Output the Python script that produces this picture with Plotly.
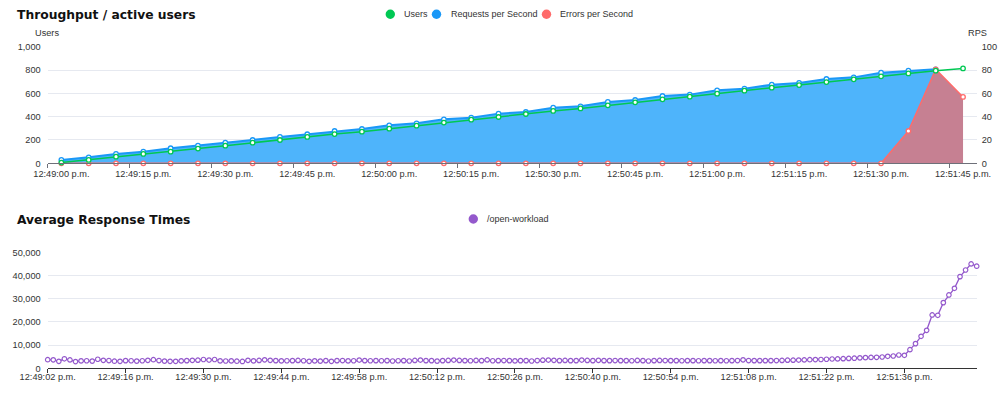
import plotly.graph_objects as go

# ---------------- data: Throughput / active users ----------------
top_times = ["12:49:00", "12:49:05", "12:49:10", "12:49:15", "12:49:20", "12:49:25",
             "12:49:30", "12:49:35", "12:49:40", "12:49:45", "12:49:50", "12:49:55",
             "12:50:00", "12:50:05", "12:50:10", "12:50:15", "12:50:20", "12:50:25",
             "12:50:30", "12:50:35", "12:50:40", "12:50:45", "12:50:50", "12:50:55",
             "12:51:00", "12:51:05", "12:51:10", "12:51:15", "12:51:20", "12:51:25",
             "12:51:30", "12:51:35", "12:51:40", "12:51:45"]
users = [6, 29, 57, 80, 100, 126, 151, 177, 200, 226, 251, 271, 297, 323, 349, 374, 397,
         423, 449, 471, 497, 523, 549, 571, 597, 623, 649, 671, 697, 720, 746, 771, 794, 814]
rps = [2.9, 5.1, 8.0, 10.0, 12.9, 15.1, 17.7, 20.0, 22.6, 24.9, 27.7, 29.4, 32.6, 34.3,
       37.7, 39.1, 42.6, 44.0, 47.7, 48.9, 52.6, 54.3, 57.7, 58.9, 62.6, 64.0, 67.4, 68.9,
       72.3, 73.7, 77.7, 79.4, 80.6, None]
errors = [0] * 31 + [27.7, 80.6, 56.9]

# ---------------- data: Average Response Times ----------------
resp_times = []
for k in range(168):
    s = 49 * 60 + 2 + k
    resp_times.append("12:%02d:%02d" % (s // 60, s % 60))
open_workload = [
    3700, 3650, 3000, 4100, 3600, 2900, 3200, 3250, 3100, 3900,
    3450, 3350, 3050, 3000, 3300, 3250, 3100, 3250, 3450, 3700,
    3350, 3100, 3000, 3000, 3200, 3300, 3450, 3500, 3800, 3550,
    3800, 3200, 3150, 3200, 3050, 2950, 3450, 3200, 3400, 3650,
    3450, 3300, 3200, 3250, 3300, 3400, 3250, 3000, 3200, 3100,
    3300, 3000, 3300, 3350, 3200, 3250, 3550, 3300, 3250, 3300,
    3250, 3300, 3150, 3250, 3300, 3150, 3400, 3550, 3300, 3300,
    3100, 3300, 3400, 3550, 3400, 3300, 3250, 3400, 3300, 3600,
    3250, 3300, 3350, 3300, 3200, 3300, 3300, 3150, 3350, 3500,
    3550, 3450, 3300, 3400, 3300, 3300, 3550, 3400, 3300, 3450,
    3300, 3300, 3350, 3300, 3300, 3250, 3400, 3300, 3150, 3300,
    3400, 3350, 3300, 3300, 3250, 3300, 3300, 3250, 3300, 3300,
    3250, 3300, 3250, 3300, 3350, 3650, 3350, 3300, 3300, 3300,
    3300, 3350, 3400, 3500, 3500, 3550, 3600, 3700, 3750, 3800,
    3900, 4000, 4050, 4150, 4250, 4350, 4500, 4600, 4700, 4750,
    4880, 5170, 5310, 5740, 5600, 8040, 10630, 13790, 16380, 22990,
    22850, 28300, 31610, 34480, 39510, 42380, 45000, 44000,
]

top_legend = ["Users", "Requests per Second", "Errors per Second"]
bottom_legend = ["/open-workload"]

GREEN = "#00c853"
BLUE = "#1a98f7"
BLUE_FILL = "rgb(78,180,251)"
RED = "#ff6b6b"
RED_FILL = "rgb(198,128,146)"
PURPLE = "#9459cc"
GRID = "#e6e9f0"
TICKFONT = dict(family="Liberation Sans", size=9.2, color="#333")
LEGFONT = dict(family="Liberation Sans", size=9.0, color="#333")

W, H = 1000, 397
X0, X1 = 47.7 / W, 976.7 / W
def py(p):
    return 1 - p / H

top_x = list(range(len(top_times)))
resp_x = list(range(len(resp_times)))

fig = go.Figure()

# Requests per second (area) - right axis (y)
fig.add_trace(go.Scatter(
    x=top_x, y=rps, xaxis="x", yaxis="y", mode="lines+markers", name="Requests per Second",
    line=dict(color=BLUE, width=2), fill="tozeroy", fillcolor=BLUE_FILL,
    marker=dict(symbol="circle", size=4.5, color="white", line=dict(color=BLUE, width=1.3)),
    showlegend=False, cliponaxis=False))
# Errors per second (area) - right axis (y)
fig.add_trace(go.Scatter(
    x=top_x, y=errors, xaxis="x", yaxis="y", mode="lines+markers", name="Errors per Second",
    line=dict(color=RED, width=1.5), fill="tozeroy", fillcolor=RED_FILL,
    marker=dict(symbol="circle", size=4.5, color="white", line=dict(color=RED, width=1.3)),
    showlegend=False, cliponaxis=False))
# Users - left axis (y2, overlaying, drawn on top)
fig.add_trace(go.Scatter(
    x=top_x, y=users, xaxis="x", yaxis="y2", mode="lines+markers", name="Users",
    line=dict(color=GREEN, width=1.5),
    marker=dict(symbol="circle", size=4.5, color="white", line=dict(color=GREEN, width=1.3)),
    showlegend=False, cliponaxis=False))

# Response times
fig.add_trace(go.Scatter(
    x=resp_x, y=open_workload, xaxis="x2", yaxis="y3", mode="lines+markers", name="/open-workload",
    line=dict(color=PURPLE, width=1.3),
    marker=dict(symbol="circle", size=4.5, color="white", line=dict(color=PURPLE, width=1.2)),
    showlegend=False, cliponaxis=False))

top_tickvals = list(range(0, len(top_times), 3))
resp_tickvals = list(range(0, len(resp_times) - 1, 14))

# legend (dots + real text)
shapes, annotations = [], []
def legend_item(cx, cy, color, label, text_x):
    shapes.append(dict(type="circle", xref="paper", yref="paper", xsizemode="pixel",
                       ysizemode="pixel", xanchor=cx / W, yanchor=py(cy),
                       x0=-4.7, x1=4.7, y0=-4.7, y1=4.7, fillcolor=color, line=dict(width=0)))
    annotations.append(dict(text=label, xref="paper", yref="paper", x=text_x / W, y=py(cy),
                            xanchor="left", yanchor="middle", showarrow=False, font=LEGFONT))

legend_item(390.3, 14.3, GREEN, top_legend[0], 401.5)
legend_item(436.5, 14.3, BLUE, top_legend[1], 448.5)
legend_item(546.5, 14.3, RED, top_legend[2], 558.3)
legend_item(473.3, 219, PURPLE, bottom_legend[0], 484.5)

annotations += [
    dict(text="Throughput / active users", xref="paper", yref="paper", x=15 / W, y=py(15),
         xanchor="left", yanchor="middle", showarrow=False,
         font=dict(family="DejaVu Sans", size=12.3, weight="bold", color="#111")),
    dict(text="Average Response Times", xref="paper", yref="paper", x=15 / W, y=py(220),
         xanchor="left", yanchor="middle", showarrow=False,
         font=dict(family="DejaVu Sans", size=12.3, weight="bold", color="#111")),
    dict(text="Users", xref="paper", yref="paper", x=47 / W, y=py(32.5),
         xanchor="center", yanchor="middle", showarrow=False, font=TICKFONT),
    dict(text="RPS", xref="paper", yref="paper", x=977 / W, y=py(32.5),
         xanchor="center", yanchor="middle", showarrow=False, font=TICKFONT),
]

fig.update_layout(
    width=W, height=H, autosize=False, showlegend=False,
    margin=dict(l=0, r=0, t=0, b=0, pad=0),
    paper_bgcolor="white", plot_bgcolor="white",
    xaxis=dict(domain=[X0, X1], anchor="y", range=[-0.5, len(top_times) - 0.5], automargin=False,
               tickvals=top_tickvals, ticktext=[top_times[i] + " p.m." for i in top_tickvals],
               ticks="", ticklabelstandoff=2, showgrid=False, zeroline=False,
               showline=True, linecolor="#6e7079", linewidth=1.2, tickfont=TICKFONT,
               minor=dict(ticks="outside", tick0=-0.5, dtick=3, ticklen=4, tickcolor="#6e7079",
                          showgrid=False)),
    yaxis=dict(domain=[py(163.3), py(46.7)], anchor="x", side="right", range=[0, 100], dtick=20,
               automargin=False, showgrid=True, gridcolor=GRID, zeroline=False, ticks="",
               ticklabelstandoff=4, tickfont=TICKFONT),
    yaxis2=dict(overlaying="y", anchor="x", side="left", range=[0, 1000], dtick=200,
                automargin=False, tickformat=",", showgrid=False, zeroline=False, ticks="",
                ticklabelstandoff=6, tickfont=TICKFONT),
    xaxis2=dict(domain=[X0, X1], anchor="y3", range=[0, len(resp_times) - 1], automargin=False,
                tickvals=resp_tickvals, ticktext=[resp_times[i] + " p.m." for i in resp_tickvals],
                ticks="outside", ticklen=4, tickcolor="#333", showgrid=False, zeroline=False,
                ticklabelstandoff=-4,
                showline=True, linecolor="#333", linewidth=1.2, tickfont=TICKFONT),
    yaxis3=dict(domain=[py(368.3), py(252.3)], anchor="x2", range=[0, 50000], dtick=10000,
                automargin=False, tickformat=",", showgrid=True, gridcolor=GRID, zeroline=False,
                ticks="", ticklabelstandoff=6, tickfont=TICKFONT),
    shapes=shapes,
    annotations=annotations,
)

fig.write_html("out.html", config={"displayModeBar": False},
               post_script="document.body.style.margin='0';document.body.style.padding='0';"
                           "document.body.style.overflow='hidden';")
